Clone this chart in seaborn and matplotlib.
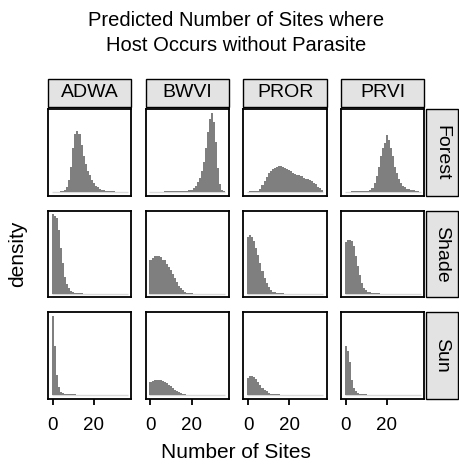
import matplotlib.pyplot as plt
import pandas as pd
import seaborn as sns
from matplotlib.patches import Rectangle

species = ["ADWA", "BWVI", "PROR", "PRVI"]
habitats = ["Forest", "Shade", "Sun"]
sites = list(range(37))

# density per site count (bins 0..36)
adwa_forest = [0, 0, 0, 0.004, 0.01, 0.01, 0.03, 0.07, 0.15, 0.32, 0.56, 0.73, 0.77,
               0.73, 0.60, 0.46, 0.36, 0.27, 0.21, 0.15, 0.11, 0.08, 0.06, 0.04, 0.025,
               0.02, 0.012, 0.01, 0.01, 0.008, 0.008, 0.006, 0.005, 0.004, 0.003, 0.002, 0]
bwvi_forest = [0, 0, 0, 0, 0, 0, 0, 0.01, 0.01, 0.01, 0.01, 0.01, 0.01, 0.01, 0.01, 0.01,
               0.01, 0.01, 0.015, 0.02, 0.03, 0.05, 0.08, 0.125, 0.175, 0.26, 0.375, 0.56,
               0.76, 0.925, 1.0, 0.89, 0.63, 0.3, 0.1, 0.03, 0.01]
pror_forest = [0, 0.01, 0.01, 0.01, 0.01, 0.01, 0.04, 0.09, 0.14, 0.19, 0.24, 0.26, 0.29,
               0.31, 0.32, 0.33, 0.33, 0.32, 0.31, 0.29, 0.28, 0.26, 0.24, 0.23, 0.22,
               0.21, 0.2, 0.18, 0.17, 0.16, 0.15, 0.14, 0.12, 0.1, 0.07, 0.045, 0.02]
prvi_forest = [0, 0, 0, 0.01, 0.01, 0.01, 0.01, 0.01, 0.01, 0.01, 0.01, 0.01, 0.025, 0.05,
               0.11, 0.2, 0.32, 0.45, 0.56, 0.62, 0.72, 0.66, 0.56, 0.45, 0.32, 0.24, 0.17,
               0.11, 0.08, 0.06, 0.04, 0.035, 0.025, 0.02, 0.01, 0.01, 0.005]

adwa_shade = [1.0, 0.98, 0.95, 0.8, 0.58, 0.38, 0.21, 0.115, 0.065, 0.033, 0.017, 0.01,
              0.01, 0.006, 0.005, 0, 0, 0, 0, 0, 0, 0, 0, 0, 0, 0, 0, 0, 0, 0, 0, 0, 0, 0,
              0, 0, 0]
bwvi_shade = [0.42, 0.45, 0.47, 0.475, 0.47, 0.46, 0.43, 0.42, 0.375, 0.34, 0.3, 0.25, 0.2,
              0.15, 0.1, 0.067, 0.04, 0.025, 0.012, 0.01, 0.005, 0, 0, 0, 0, 0, 0, 0, 0, 0,
              0, 0, 0, 0, 0, 0, 0]
pror_shade = [0.72, 0.74, 0.72, 0.66, 0.58, 0.49, 0.38, 0.28, 0.2, 0.13, 0.08, 0.05, 0.025,
              0.02, 0.01, 0.01, 0.01, 0.01, 0, 0, 0, 0, 0, 0, 0, 0, 0, 0, 0, 0, 0, 0, 0, 0,
              0, 0, 0]
prvi_shade = [0.65, 0.675, 0.675, 0.66, 0.6, 0.48, 0.35, 0.23, 0.13, 0.075, 0.04, 0.025,
              0.015, 0.01, 0.01, 0.01, 0.01, 0, 0, 0, 0, 0, 0, 0, 0, 0, 0, 0, 0, 0, 0, 0, 0,
              0, 0, 0, 0]

adwa_sun = [1.0, 0.62, 0.25, 0.1, 0.04, 0.025, 0.015, 0.012, 0.008, 0.008, 0.008, 0.008,
            0, 0, 0, 0, 0, 0, 0, 0, 0, 0, 0, 0, 0, 0, 0, 0, 0, 0, 0, 0, 0, 0, 0, 0, 0]
bwvi_sun = [0.16, 0.18, 0.19, 0.195, 0.195, 0.19, 0.18, 0.17, 0.15, 0.13, 0.11, 0.09, 0.07,
            0.05, 0.035, 0.02, 0.012, 0.008, 0.005, 0.005, 0.005, 0, 0, 0, 0, 0, 0, 0, 0, 0,
            0, 0, 0, 0, 0, 0, 0]
pror_sun = [0.21, 0.235, 0.235, 0.225, 0.2, 0.165, 0.13, 0.095, 0.07, 0.045, 0.03, 0.018,
            0.015, 0.01, 0.008, 0.008, 0, 0, 0, 0, 0, 0, 0, 0, 0, 0, 0, 0, 0, 0, 0, 0, 0, 0,
            0, 0, 0]
prvi_sun = [0.625, 0.56, 0.42, 0.19, 0.09, 0.05, 0.025, 0.012, 0.008, 0.008, 0.008, 0, 0, 0,
            0, 0, 0, 0, 0, 0, 0, 0, 0, 0, 0, 0, 0, 0, 0, 0, 0, 0, 0, 0, 0, 0, 0]

panels = {
    ("ADWA", "Forest"): adwa_forest, ("BWVI", "Forest"): bwvi_forest,
    ("PROR", "Forest"): pror_forest, ("PRVI", "Forest"): prvi_forest,
    ("ADWA", "Shade"): adwa_shade, ("BWVI", "Shade"): bwvi_shade,
    ("PROR", "Shade"): pror_shade, ("PRVI", "Shade"): prvi_shade,
    ("ADWA", "Sun"): adwa_sun, ("BWVI", "Sun"): bwvi_sun,
    ("PROR", "Sun"): pror_sun, ("PRVI", "Sun"): prvi_sun,
}

rows = []
for (sp, hab), vals in panels.items():
    for s, d in zip(sites, vals):
        rows.append((sp, hab, s, d))
df = pd.DataFrame(rows, columns=["species", "habitat", "sites", "density"])

sns.set_style("white")
plt.rcParams["font.family"] = ["Liberation Sans", "DejaVu Sans"]
plt.rcParams["text.color"] = "black"

BAR = "#7f7f7f"
STRIP = "#e3e3e3"

g = sns.FacetGrid(df, row="habitat", col="species", row_order=habitats,
                  col_order=species, sharex=True, sharey=True, height=1.2)
# step element fills one polygon per panel, so no seams between bars
g.map_dataframe(sns.histplot, x="sites", weights="density", discrete=True,
                element="step", color=BAR, alpha=1, linewidth=0)

fig = g.figure
fig.set_size_inches(4.6, 4.65)
fig.subplots_adjust(left=48 / 460, right=424.5 / 460, top=1 - 109 / 465,
                    bottom=1 - 399 / 465, wspace=0.17, hspace=0.1667)

for i, hab in enumerate(habitats):
    for j, sp in enumerate(species):
        ax = g.axes[i, j]
        ax.set_title("")
        ax.set_xlabel("")
        ax.set_ylabel("")
        ax.hlines(0, -0.5, 36.5, color="#d9d9d9", lw=1, zorder=0)
        ax.set_xlim(-2.35, 38.35)
        ax.set_ylim(-0.05, 1.05)
        ax.set_yticks([])
        ax.set_xticks([0, 20])
        for side in ["left", "right", "top", "bottom"]:
            ax.spines[side].set_visible(True)
            ax.spines[side].set_color("black")
            ax.spines[side].set_linewidth(1.3)
        if i == len(habitats) - 1:
            ax.tick_params(axis="x", bottom=True, length=4, width=1.3,
                           labelsize=13.5, pad=9, colors="black")
        else:
            ax.tick_params(axis="x", bottom=False, labelbottom=False)
        if i == 0:
            ax.add_patch(Rectangle((0, 1.025), 1, 0.325, transform=ax.transAxes,
                                   clip_on=False, facecolor=STRIP, edgecolor="black", lw=1.0))
            ax.text(0.5, 1.19, sp, transform=ax.transAxes, ha="center", va="center",
                    fontsize=14)
        if j == len(species) - 1:
            ax.add_patch(Rectangle((1.018, 0), 0.383, 1, transform=ax.transAxes,
                                   clip_on=False, facecolor=STRIP, edgecolor="black", lw=1.0))
            ax.text(1.21, 0.5, hab, transform=ax.transAxes, ha="center", va="center",
                    rotation=-90, fontsize=14)

fig.text(236 / 460, 1 - 33 / 465, "Predicted Number of Sites where\nHost Occurs without Parasite",
         ha="center", va="center", fontsize=14.5, linespacing=1.35)
fig.text(236 / 460, 1 - 452 / 465, "Number of Sites", ha="center", va="center", fontsize=15)
fig.text(18 / 460, 1 - 254 / 465, "density", ha="center", va="center", rotation=90,
         fontsize=15)

fig.savefig("out.png", dpi=100)
plt.close(fig)
